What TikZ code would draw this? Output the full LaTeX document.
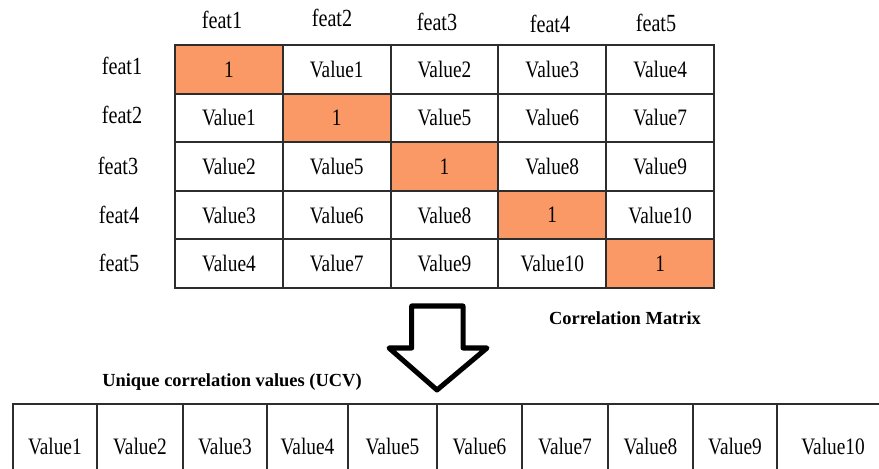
\documentclass[tikz,border=0pt]{standalone}
\usepackage{fontspec}
\setmainfont{Liberation Serif}
\definecolor{diagcell}{RGB}{250,152,102}
\definecolor{gridline}{RGB}{45,45,45}
\newcommand{\tallText}[1]{\scalebox{1}[1.22]{#1}}

\begin{document}
\begin{tikzpicture}[x=0.02cm, y=-0.02cm,
        cell/.style={draw=gridline, line width=1.1pt, fill=white,
            minimum width=2.156cm, minimum height=0.972cm, inner sep=0pt,
            font=\fontsize{11}{13}\selectfont},
        ucvcell/.style={draw=gridline, line width=1.1pt,
            minimum height=1.68cm, inner sep=0pt,
            font=\fontsize{11}{13}\selectfont},
        featlabel/.style={inner sep=0pt, font=\fontsize{11.5}{13}\selectfont},
        caption/.style={inner sep=0pt, font=\fontsize{10.5}{12}\selectfont\bfseries}]
    \useasboundingbox (0,0) rectangle (879,469);
    \clip (0,0) rectangle (879,469);

    % column and row headers
    \node[featlabel] (c1) at (222,20) {\tallText{feat1}};
    \node[featlabel] (c2) at (332,18) {\tallText{feat2}};
    \node[featlabel] (c3) at (437,22) {\tallText{feat3}};
    \node[featlabel] (c4) at (550,24) {\tallText{feat4}};
    \node[featlabel] (c5) at (656,23) {\tallText{feat5}};
    \node[featlabel] (r1) at (122,66) {\tallText{feat1}};
    \node[featlabel] (r2) at (122,115) {\tallText{feat2}};
    \node[featlabel] (r3) at (118,166) {\tallText{feat3}};
    \node[featlabel] (r4) at (119,215) {\tallText{feat4}};
    \node[featlabel] (r5) at (119,263) {\tallText{feat5}};

    % correlation matrix
    \foreach \row [count=\r] in {{1,Value1,Value2,Value3,Value4},
            {Value1,1,Value5,Value6,Value7},
            {Value2,Value5,1,Value8,Value9},
            {Value3,Value6,Value8,1,Value10},
            {Value4,Value7,Value9,Value10,1}}
        \foreach \t [count=\c] in \row {
            \ifnum\c=\r \def\cellfill{diagcell}\else \def\cellfill{white}\fi
            \node[cell, fill=\cellfill] (m\r\c)
                at ({175+107.8*(\c-0.5)},{45+48.6*(\r-0.5)}) {\tallText{\t}};
        }
    \node[caption] (corr) at (625,318) {Correlation Matrix};

    % block arrow
    \draw[line width=2.85pt, line join=round]
        (411.7,306) -- (463,306) -- (463,348) -- (487,348) -- (437,390)
        -- (389,348) -- (411.7,348) -- cycle;

    % unique values
    \node[caption] (ucv) at (232,382) {Unique correlation values (UCV)};
    \foreach \x/\w/\t [count=\k] in {54.85/1.686/Value1, 140/1.72/Value2,
            225/1.68/Value3, 307.5/1.62/Value4, 392.5/1.78/Value5,
            479.5/1.70/Value6, 565/1.72/Value7, 650.5/1.70/Value8,
            735/1.68/Value9, 833/2.24/Value10}
        \node[ucvcell, minimum width=\w cm] (u\k) at (\x,446) {\tallText{\t}};
\end{tikzpicture}
\end{document}
